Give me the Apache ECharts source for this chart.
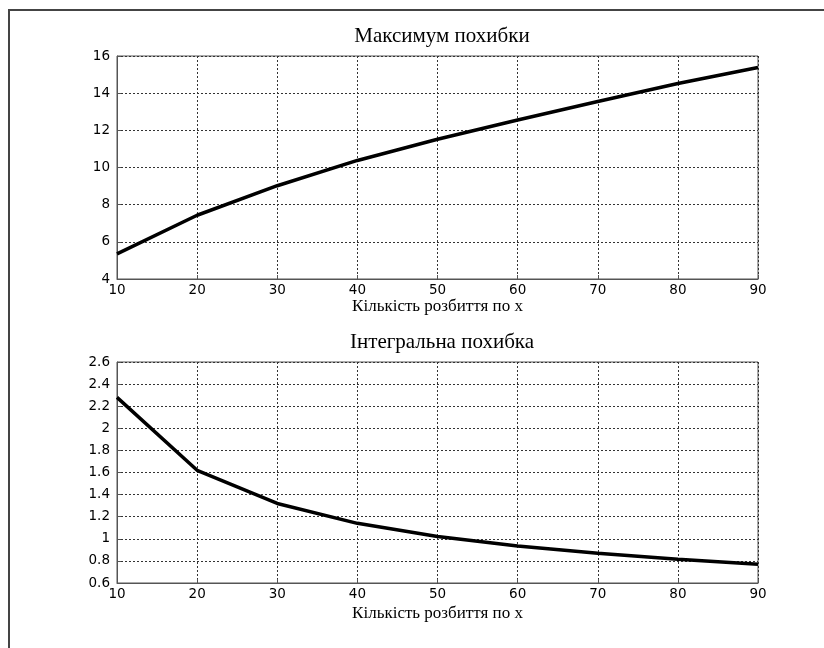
<!DOCTYPE html>
<html><head><meta charset="utf-8">
<script src="https://cdn.jsdelivr.net/npm/echarts@6/dist/echarts.min.js"></script>
<style>html,body{margin:0;padding:0;background:#fff}#c{width:824px;height:648px}</style>
</head><body><div id="c"></div>
<script>
const xValues = [10, 20, 30, 40, 50, 60, 70, 80, 90];
const maxError = [5.35, 7.43, 9.02, 10.38, 11.52, 12.56, 13.55, 14.52, 15.38];
const integralError = [2.28, 1.62, 1.32, 1.14, 1.02, 0.935, 0.87, 0.815, 0.77];
const title1 = 'Максимум похибки';
const title2 = 'Інтегральна похибка';
const xLabel = 'Кількість розбиття по x';

const chart = echarts.init(document.getElementById('c'), null, {renderer: 'canvas'});
const serif = '"Liberation Serif", "Times New Roman", serif';
const sans = '"DejaVu Sans", Arial, sans-serif';
const gridLine = {show: true, lineStyle: {color: '#333', type: [2, 2], width: 1}};
function xAxis(gi, gap) {
  return {
    type: 'value', gridIndex: gi, min: 10, max: 90, interval: 10,
    name: xLabel, nameLocation: 'middle', nameGap: gap,
    nameTextStyle: {fontFamily: serif, fontSize: 17, color: '#000'},
    axisLine: {show: true, lineStyle: {color: '#555'}},
    axisTick: {show: true, inside: true, length: 4, lineStyle: {color: '#555'}},
    axisLabel: {fontFamily: sans, fontSize: 13.5, color: '#000', margin: 4},
    splitLine: gridLine
  };
}
function yAxis(gi, min, max, iv, fmt) {
  return {
    type: 'value', gridIndex: gi, min: min, max: max, interval: iv,
    axisLine: {show: true, lineStyle: {color: '#555'}},
    axisTick: {show: true, inside: true, length: 4, lineStyle: {color: '#555'}},
    axisLabel: {fontFamily: sans, fontSize: 13.5, color: '#000', margin: 7, formatter: fmt},
    splitLine: gridLine
  };
}
const fmt2 = v => String(Math.round(v * 10) / 10);
chart.setOption({
  animation: false,
  backgroundColor: '#fff',
  title: [
    {text: title1, left: 437, top: 21, textAlign: 'center', textStyle: {fontFamily: serif, fontSize: 21, fontWeight: 'normal', color: '#000'}},
    {text: title2, left: 437, top: 327, textAlign: 'center', textStyle: {fontFamily: serif, fontSize: 21, fontWeight: 'normal', color: '#000'}}
  ],
  grid: [
    {left: 117, top: 56, width: 641, height: 223, show: true, borderColor: '#555', borderWidth: 1},
    {left: 117, top: 362, width: 641, height: 221, show: true, borderColor: '#555', borderWidth: 1}
  ],
  xAxis: [xAxis(0, 19), xAxis(1, 22)],
  yAxis: [yAxis(0, 4, 16, 2), yAxis(1, 0.6, 2.6, 0.2, fmt2)],
  series: [
    {type: 'line', xAxisIndex: 0, yAxisIndex: 0, data: xValues.map((x, i) => [x, maxError[i]]), showSymbol: false, lineStyle: {color: '#000', width: 3.5}},
    {type: 'line', xAxisIndex: 1, yAxisIndex: 1, data: xValues.map((x, i) => [x, integralError[i]]), showSymbol: false, lineStyle: {color: '#000', width: 3.5}}
  ],
  graphic: [
    {type: 'line', shape: {x1: 8, y1: 10, x2: 824, y2: 10}, style: {stroke: '#444', lineWidth: 2}},
    {type: 'line', shape: {x1: 9, y1: 10, x2: 9, y2: 648}, style: {stroke: '#444', lineWidth: 2}}
  ]
});
</script></body></html>
